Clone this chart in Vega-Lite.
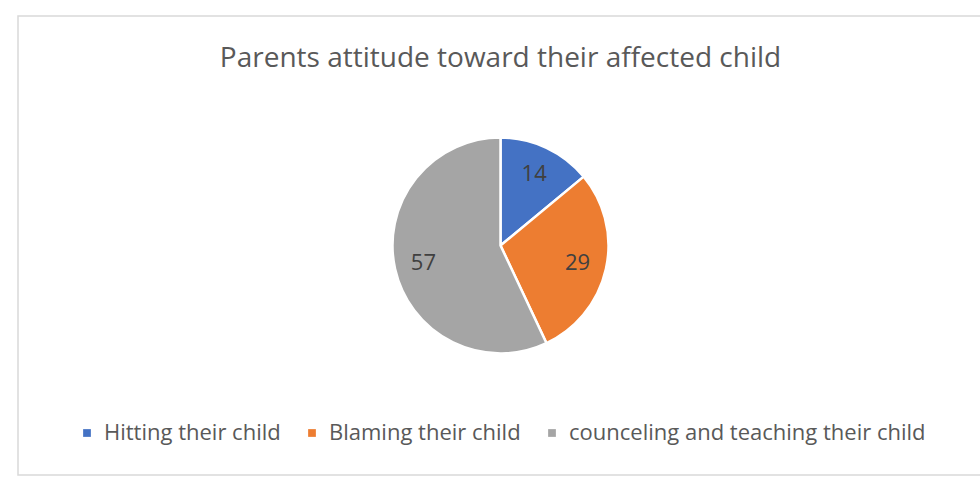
{
  "$schema": "https://vega.github.io/schema/vega-lite/v6.json",
  "width": 980,
  "height": 479,
  "autosize": {"type": "fit", "contains": "padding"},
  "padding": {"left": 18, "top": 16, "right": -3, "bottom": 4},
  "background": "#FFFFFF",
  "title": {
    "text": "Parents attitude toward their affected child",
    "font": "Open Sans",
    "fontSize": 28,
    "fontWeight": "normal",
    "color": "#595959",
    "anchor": "middle",
    "frame": "group",
    "offset": -57
  },
  "data": {
    "values": [
      {"category": "Hitting their child", "value": 14, "idx": 1},
      {"category": "Blaming their child", "value": 29, "idx": 2},
      {"category": "counceling and teaching their child", "value": 57, "idx": 3}
    ]
  },
  "encoding": {
    "theta": {"field": "value", "type": "quantitative", "stack": true},
    "order": {"field": "idx", "type": "quantitative"}
  },
  "layer": [
    {
      "mark": {"type": "arc", "radius": 108, "stroke": "#FFFFFF", "strokeWidth": 2.5},
      "encoding": {
        "color": {
          "field": "category",
          "type": "nominal",
          "sort": ["Hitting their child", "Blaming their child", "counceling and teaching their child"],
          "scale": {
            "domain": ["Hitting their child", "Blaming their child", "counceling and teaching their child"],
            "range": ["#4472C4", "#ED7D31", "#A5A5A5"]
          },
          "legend": {
            "title": null,
            "orient": "bottom",
            "direction": "horizontal",
            "offset": -53,
            "symbolType": "square",
            "symbolSize": 60,
            "symbolStrokeWidth": 0,
            "labelFont": "Open Sans",
            "labelFontSize": 22,
            "labelColor": "#595959",
            "labelLimit": 600,
            "columnPadding": 20,
            "labelOffset": 6
          }
        }
      }
    },
    {
      "mark": {"type": "text", "radius": 79, "font": "Open Sans", "fontSize": 22, "color": "#404040"},
      "encoding": {"text": {"field": "value", "type": "quantitative"}}
    }
  ],
  "view": {"stroke": "#D9D9D9", "strokeWidth": 1.5, "fill": "#FFFFFF"},
  "config": {
    "legend": {"layout": {"bottom": {"anchor": "middle"}}}
  }
}
